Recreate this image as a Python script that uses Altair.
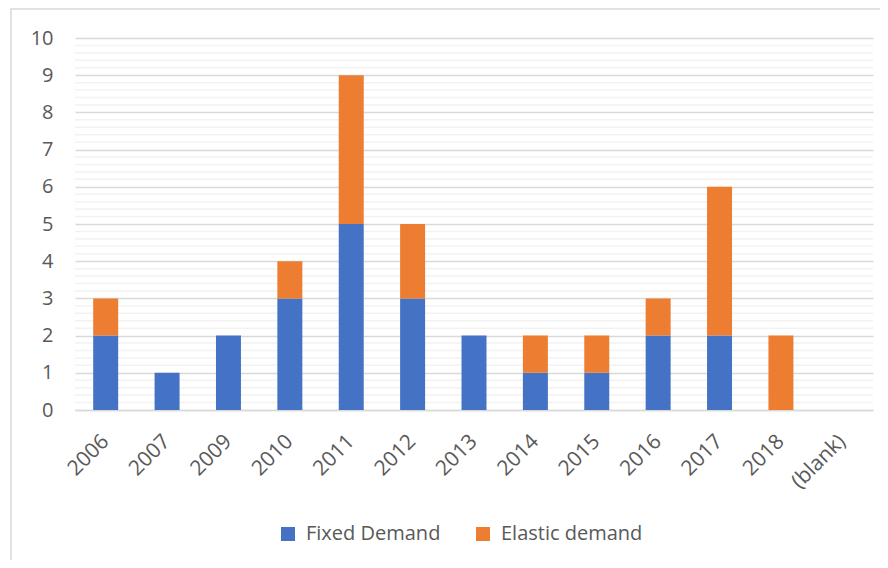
import altair as alt
import pandas as pd
import numpy as np

years = ["2006", "2007", "2009", "2010", "2011", "2012", "2013", "2014", "2015", "2016", "2017", "2018", "(blank)"]
fixed = [2, 1, 2, 3, 5, 3, 2, 1, 1, 2, 2, 0, 0]
elastic = [1, 0, 0, 1, 4, 2, 0, 1, 1, 1, 4, 2, 0]
series = ["Fixed Demand", "Elastic demand"]
colors = ["#4472C4", "#ED7D31"]
y_ticks = list(range(0, 11))

rows = []
for i, y in enumerate(years):
    rows.append({"year": y, "series": series[0], "value": fixed[i], "ord": 0})
    rows.append({"year": y, "series": series[1], "value": elastic[i], "ord": 1})
df = pd.DataFrame(rows)

minor = pd.DataFrame({"value": [round(v, 1) for v in np.arange(0, 10.01, 0.2) if abs(v - round(v)) > 1e-6]})

W, H = 798, 372
FONT = "Open Sans"
TXT = "#595959"
GRID = "#d9d9d9"

yscale = alt.Scale(domain=[0, 10], nice=False, zero=True)
yaxis = alt.Axis(title=None, values=y_ticks, ticks=False, tickSize=0, domain=False,
                 grid=True, gridColor=GRID, gridWidth=1.5, labelPadding=22)

minor_rules = alt.Chart(minor).mark_rule(color="#f2f2f2", strokeWidth=1.5).encode(
    y=alt.Y("value:Q", scale=yscale, axis=yaxis)
)

bars = alt.Chart(df).mark_bar().encode(
    x=alt.X("year:N", sort=years,
            scale=alt.Scale(paddingInner=0.593, paddingOuter=0.2965),
            axis=alt.Axis(title=None, labelAngle=-45, labelAlign="right", labelBaseline="middle",
                          ticks=False, tickSize=0, labelPadding=28, labelFontSize=21,
                          domainColor=GRID, domainWidth=1.5, grid=False)),
    y=alt.Y("value:Q", stack="zero", scale=yscale, axis=yaxis),
    color=alt.Color("series:N", sort=series,
                    scale=alt.Scale(domain=series, range=colors),
                    legend=alt.Legend(title=None, orient="none", direction="horizontal",
                                      legendX=203, legendY=486, symbolType="square",
                                      symbolSize=196, symbolStrokeWidth=0, labelOffset=8,
                                      columnPadding=32)),
    order=alt.Order("ord:Q"),
)

border = alt.Chart(pd.DataFrame({"a": [0]})).mark_rect(
    fill=None, stroke=GRID, strokeWidth=1.5
).encode(x=alt.value(-64), x2=alt.value(W + 60), y=alt.value(-29), y2=alt.value(H + 250))

chart = alt.layer(border, minor_rules, bars).properties(
    width=W, height=H,
    autosize=alt.AutoSizeParams(type="none"),
    padding={"left": 67, "top": 30, "right": 7, "bottom": 150},
).configure_view(stroke=None).configure_axis(
    labelFont=FONT, labelFontSize=20, labelColor=TXT
).configure_legend(
    labelFont=FONT, labelFontSize=20, labelColor=TXT
)

chart.save("out.html", embed_options={"renderer": "svg", "actions": False})
